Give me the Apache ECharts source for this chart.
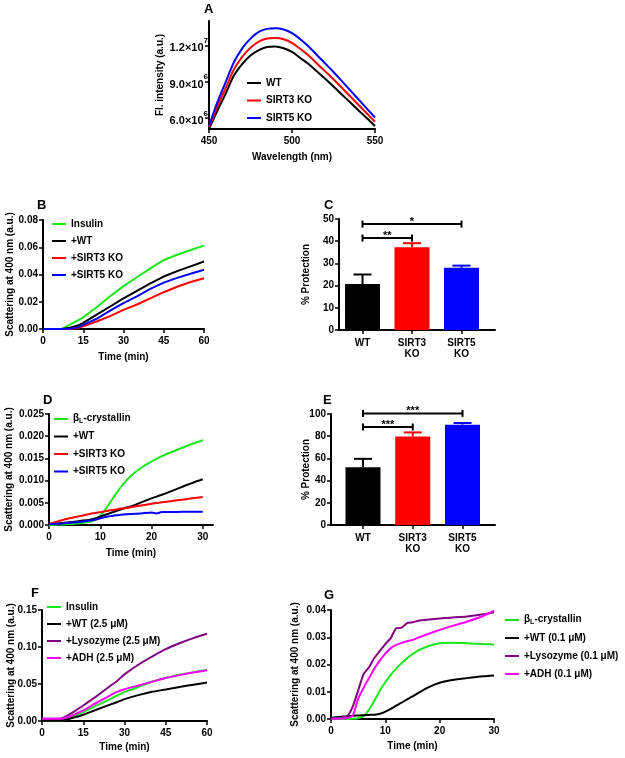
<!DOCTYPE html>
<html><head><meta charset="utf-8">
<script src="https://cdn.jsdelivr.net/npm/echarts@6/dist/echarts.min.js"></script>
<style>html,body{margin:0;padding:0;background:#fff}#c{width:625px;height:758px}</style>
</head><body><div id="c"></div>
<script>
// ---------- Panel A ----------
const aWavelength = [450,455,460,465,470,475,480,485,490,495,500,505,510,515,520,525,530,535,540,545,550];
const aWT    = [5.1e6,6.6e6,8.0e6,9.5e6,10.45e6,11.15e6,11.6e6,11.85e6,11.9e6,11.75e6,11.45e6,10.95e6,10.45e6,9.85e6,9.25e6,8.6e6,7.95e6,7.3e6,6.65e6,6.0e6,5.35e6];
const aSIRT3 = [5.25e6,6.95e6,8.45e6,10.0e6,11.05e6,11.8e6,12.3e6,12.55e6,12.6e6,12.5e6,12.2e6,11.7e6,11.15e6,10.5e6,9.85e6,9.2e6,8.5e6,7.8e6,7.1e6,6.4e6,5.7e6];
const aSIRT5 = [5.35e6,7.3e6,8.95e6,10.6e6,11.75e6,12.55e6,13.1e6,13.35e6,13.4e6,13.3e6,13.0e6,12.5e6,11.9e6,11.2e6,10.5e6,9.8e6,9.05e6,8.3e6,7.55e6,6.8e6,6.05e6];
const aTickValues = [6e6, 9e6, 1.2e7];
const aTickMant = ['6.0','9.0','1.2'];
const aTickExp = ['6','6','7'];

// ---------- Panel B ----------
const bTime    = [0,5,7,10,13,15,20,25,30,35,40,45,50,55,60];
const bInsulin = [0,0,0,0.0032,0.0064,0.0085,0.016,0.024,0.0315,0.038,0.0445,0.0505,0.0545,0.058,0.0612];
const bWT      = [0,0,0,0.001,0.0025,0.0045,0.0105,0.0165,0.0225,0.028,0.0335,0.0385,0.0425,0.046,0.0495];
const bSIRT3   = [0,0,0,0,0.0008,0.002,0.0055,0.0095,0.014,0.018,0.0225,0.027,0.031,0.0345,0.0373];
const bSIRT5   = [0,0,0,0.0002,0.0012,0.003,0.0075,0.0135,0.019,0.024,0.0295,0.034,0.0375,0.0405,0.0435];

// ---------- Panel C ----------
const cCategories = ['WT','SIRT3\nKO','SIRT5\nKO'];
const cMeans = [20.7, 37.3, 28.0];
const cErr   = [4.3, 1.8, 1.0];
const cBrFrom = [1, 1];
const cBrTo   = [3, 2];
const cBrY    = [47.7, 41.4];
const cBrText = ['*', '**'];

// ---------- Panel D ----------
const dTime    = [0,2,4,6,8,9,10,11,12,13,14,15,16,18,20,21,22,24,26,28,30];
const dCrystal = [0,0.0001,0.0002,0.0004,0.0007,0.0012,0.0021,0.0035,0.0052,0.0069,0.0085,0.0099,0.0111,0.0129,0.0143,0.0149,0.0155,0.0165,0.0174,0.0183,0.0191];
const dWT      = [0.0002,0.0004,0.0006,0.0009,0.0012,0.0015,0.0019,0.0023,0.0027,0.0031,0.0035,0.0039,0.0042,0.0051,0.006,0.0064,0.0068,0.0077,0.0086,0.0095,0.0103];
const dSIRT3   = [0.0002,0.0009,0.0015,0.002,0.0025,0.0027,0.0029,0.0031,0.0033,0.0035,0.0037,0.0038,0.004,0.0044,0.0048,0.00495,0.0051,0.0054,0.0057,0.006,0.0063];
const dSIRT5   = [0.0002,0.0003,0.0005,0.0007,0.001,0.0012,0.0015,0.0018,0.002,0.0022,0.0023,0.0024,0.0025,0.0026,0.0028,0.0026,0.0029,0.0029,0.003,0.003,0.003];

// ---------- Panel E ----------
const eCategories = ['WT','SIRT3\nKO','SIRT5\nKO'];
const eMeans = [52.1, 79.8, 90.4];
const eErr   = [7.5, 3.6, 1.5];
const eBrFrom = [1, 1];
const eBrTo   = [3, 2];
const eBrY    = [100.5, 88.3];
const eBrText = ['***', '***'];

// ---------- Panel F ----------
const fTime     = [0,5,7,10,13,15,20,25,27,30,35,40,45,50,55,60];
const fInsulin  = [0.001,0.001,0.001,0.004,0.009,0.012,0.021,0.030,0.034,0.039,0.046,0.053,0.058,0.0625,0.066,0.069];
const fWT       = [0.001,0.001,0.001,0.003,0.006,0.0085,0.0155,0.0225,0.025,0.0295,0.035,0.0395,0.0425,0.046,0.049,0.052];
const fLysozyme = [0.003,0.003,0.0035,0.009,0.016,0.021,0.034,0.048,0.053,0.063,0.076,0.087,0.097,0.105,0.112,0.118];
const fADH      = [0.003,0.003,0.003,0.006,0.011,0.0145,0.025,0.035,0.039,0.043,0.048,0.053,0.058,0.062,0.0655,0.0685];

// ---------- Panel G ----------
const gTime     = [0,1,2,3,4,5,6,7,8,9,10,11,12,13,14,15,16,18,20,22,25,28,30];
const gCrystal  = [0,0,0,0,0.0001,0.0003,0.001,0.0035,0.0068,0.0105,0.0135,0.0162,0.0185,0.0205,0.0223,0.0238,0.0251,0.0268,0.0278,0.028,0.0278,0.0275,0.0273];
const gWT       = [0.0004,0.0006,0.0008,0.001,0.0012,0.0013,0.0014,0.0015,0.0016,0.0019,0.0027,0.0037,0.0049,0.006,0.0072,0.0083,0.0095,0.0117,0.0133,0.0142,0.015,0.0157,0.016];
const gLysozyme = [0.0002,0.0003,0.0005,0.001,0.0045,0.0105,0.0165,0.019,0.0225,0.025,0.0275,0.0297,0.0333,0.0335,0.0352,0.0355,0.036,0.0365,0.0369,0.0372,0.0376,0.0384,0.0392];
const gADH      = [0,0.0001,0.0002,0.0004,0.0012,0.0075,0.0115,0.015,0.0185,0.0215,0.024,0.026,0.0272,0.0279,0.0285,0.029,0.0298,0.0313,0.0327,0.034,0.0357,0.0378,0.0398];

// ---------- styling ----------
const FONT = 'Liberation Sans, Arial, sans-serif';
const GREEN = '#19e619', BLACK = '#000000', RED = '#ff0000', BLUE = '#0000ff', PURPLE = '#800080', MAGENTA = '#ff00ff';
const barColors = [BLACK, RED, BLUE];
const T = {color:'#000', fontFamily: FONT, fontWeight:'bold', fontSize: 10};

function merge(a, b) {
  const out = Array.isArray(a) ? a.slice() : Object.assign({}, a);
  for (const k in b) {
    if (b[k] && typeof b[k] === 'object' && !Array.isArray(b[k]) && typeof b[k] !== 'function' && a[k] && typeof a[k] === 'object') out[k] = merge(a[k], b[k]);
    else out[k] = b[k];
  }
  return out;
}
function axis(gi, o) {
  return merge({
    gridIndex: gi, type: 'value',
    axisLine: {show: true, onZero: false, lineStyle: {color: '#000', width: 2}},
    axisTick: {show: true, inside: false, length: 4, lineStyle: {color: '#000', width: 1.5}},
    axisLabel: Object.assign({show: true, margin: 5}, T),
    splitLine: {show: false},
    nameLocation: 'middle',
    nameTextStyle: Object.assign({}, T),
    nameMoveOverlap: false
  }, o);
}
function xaxis(gi, o) { return axis(gi, merge({axisLabel: {margin: 7}}, o)); }
function line(name, gi, xs, ys, color, smooth) {
  return {type: 'line', name, xAxisIndex: gi, yAxisIndex: gi,
    data: xs.map((x, i) => [x, ys[i]]), showSymbol: false, symbol: 'none',
    smooth: smooth || false, lineStyle: {color, width: 2}, itemStyle: {color}, animation: false};
}
function bars(name, gi, means) {
  return {type: 'bar', name, xAxisIndex: gi, yAxisIndex: gi, barWidth: 35, animation: false,
    data: means.map((v, i) => ({value: [i + 1, v], itemStyle: {color: barColors[i]}}))};
}
function errBars(gi, means, errs) {
  return {type: 'custom', xAxisIndex: gi, yAxisIndex: gi, animation: false, z: 3,
    data: means.map((v, i) => [i + 1, v, v + errs[i]]),
    renderItem: function (params, api) {
      const p0 = api.coord([api.value(0), api.value(1)]);
      const p1 = api.coord([api.value(0), api.value(2)]);
      const st = {stroke: barColors[params.dataIndex], lineWidth: 2};
      return {type: 'group', children: [
        {type: 'line', shape: {x1: p0[0], y1: p0[1], x2: p1[0], y2: p1[1]}, style: st},
        {type: 'line', shape: {x1: p1[0] - 9, y1: p1[1], x2: p1[0] + 9, y2: p1[1]}, style: st}
      ]};
    }};
}
function brackets(gi, from, to, ys, texts) {
  return {type: 'custom', xAxisIndex: gi, yAxisIndex: gi, animation: false, z: 4, clip: false,
    data: from.map((f, i) => [f, to[i], ys[i]]),
    renderItem: function (params, api) {
      const a = api.coord([api.value(0), api.value(2)]);
      const b = api.coord([api.value(1), api.value(2)]);
      const st = {stroke: '#000', lineWidth: 2};
      return {type: 'group', children: [
        {type: 'line', shape: {x1: a[0], y1: a[1], x2: b[0], y2: b[1]}, style: st},
        {type: 'line', shape: {x1: a[0], y1: a[1] - 3.5, x2: a[0], y2: a[1] + 3.5}, style: st},
        {type: 'line', shape: {x1: b[0], y1: b[1] - 3.5, x2: b[0], y2: b[1] + 3.5}, style: st},
        {type: 'text', style: {text: texts[params.dataIndex], x: (a[0] + b[0]) / 2, y: a[1] - 2,
          align: 'center', verticalAlign: 'middle', fill: '#000', font: 'bold 11px ' + FONT}}
      ]};
    }};
}
function legend(names, left, top, gap) {
  return {data: names, left, top, orient: 'vertical', icon: 'rect', itemWidth: 14, itemHeight: 2,
    itemGap: gap, selectedMode: false, padding: 0,
    formatter: n => n === 'βL-crystallin' ? '{n|β}{s|L}{n|-crystallin}' : n,
    textStyle: Object.assign({lineHeight: 12, padding: [0, 0, 0, 0],
      rich: {n: Object.assign({lineHeight: 12, verticalAlign: 'top'}, T),
             s: Object.assign({}, T, {fontSize: 7, lineHeight: 6, verticalAlign: 'bottom'})}}, T)};
}
const letter = (t, left, top) => ({text: t, left, top, padding: 0,
  textStyle: {color: '#000', fontFamily: FONT, fontWeight: 'bold', fontSize: 13}});

const grids = [
  {left: 209, top: 21, width: 166, height: 108},
  {left: 43, top: 220, width: 161, height: 109},
  {left: 339, top: 219, width: 156, height: 111},
  {left: 49, top: 414, width: 164, height: 111},
  {left: 331, top: 414, width: 164, height: 111},
  {left: 42, top: 610, width: 165, height: 111},
  {left: 331, top: 610, width: 163, height: 109}
].map(g => Object.assign({containLabel: false, outerBoundsMode: 'none'}, g));

const scatName = 'Scattering at 400 nm (a.u.)';
const option = {
  backgroundColor: '#fff',
  animation: false,
  textStyle: {fontFamily: FONT},
  title: [letter('A', 204, 3), letter('B', 37, 199), letter('C', 324, 199), letter('D', 43, 394),
          letter('E', 323, 394), letter('F', 31, 587), letter('G', 324, 589)],
  grid: grids,
  xAxis: [
    xaxis(0, {min: 450, max: 550, interval: 50, name: 'Wavelength (nm)', nameGap: 23}),
    xaxis(1, {min: 0, max: 60, interval: 15, name: 'Time (min)', nameGap: 23}),
    xaxis(2, {min: 0.525, max: 3.677,
      axisTick: {customValues: [1, 2, 3]},
      axisLabel: {customValues: [1, 2, 3], lineHeight: 11.5, formatter: v => cCategories[Math.round(v) - 1]}}),
    xaxis(3, {min: 0, max: 32, name: 'Time (min)', nameGap: 23,
      axisTick: {customValues: [0, 10, 20, 30]}, axisLabel: {customValues: [0, 10, 20, 30]}}),
    xaxis(4, {min: 0.357, max: 3.653,
      axisTick: {customValues: [1, 2, 3]},
      axisLabel: {customValues: [1, 2, 3], lineHeight: 11.5, formatter: v => eCategories[Math.round(v) - 1]}}),
    xaxis(5, {min: 0, max: 60, interval: 15, name: 'Time (min)', nameGap: 21}),
    xaxis(6, {min: 0, max: 30, interval: 10, name: 'Time (min)', nameGap: 22})
  ],
  yAxis: [
    axis(0, {min: 5.1e6, max: 1.4e7, name: 'Fl. intensity (a.u.)', nameGap: 44,
      axisTick: {customValues: aTickValues},
      axisLabel: {customValues: aTickValues, margin: 1,
        formatter: v => { const i = aTickValues.indexOf(v); return '{m|' + aTickMant[i] + '×10}{e|' + aTickExp[i] + '}'; },
        rich: {m: Object.assign({}, T, {fontSize: 11, lineHeight: 17, verticalAlign: 'bottom'}),
               e: Object.assign({}, T, {fontSize: 8, lineHeight: 9, verticalAlign: 'top'})}}}),
    axis(1, {min: 0, max: 0.08, interval: 0.02, name: scatName, nameGap: 28,
      axisLabel: {formatter: v => v.toFixed(2)}}),
    axis(2, {min: 0, max: 50, interval: 10, name: '% Protection', nameGap: 28}),
    axis(3, {min: 0, max: 0.025, interval: 0.005, name: scatName, nameGap: 35,
      axisLabel: {formatter: v => v.toFixed(3)}}),
    axis(4, {min: 0, max: 100, interval: 20, name: '% Protection', nameGap: 20}),
    axis(5, {min: 0, max: 0.15, interval: 0.05, name: scatName, nameGap: 26,
      axisLabel: {formatter: v => v.toFixed(2)}}),
    axis(6, {min: 0, max: 0.04, interval: 0.01, name: scatName, nameGap: 31,
      axisLabel: {formatter: v => v.toFixed(2)}})
  ],
  legend: [
    legend(['WT', 'SIRT3 KO', 'SIRT5 KO'], 247, 77, 5.5),
    legend(['Insulin', '+WT', '+SIRT3 KO', '+SIRT5 KO'], 52, 218, 5),
    legend(['βL-crystallin', '+WT', '+SIRT3 KO', '+SIRT5 KO'], 54, 413, 5.5),
    legend(['Insulin', '+WT (2.5 μM)', '+Lysozyme (2.5 μM)', '+ADH (2.5 μM)'], 47, 601, 5),
    legend(['βL-crystallin', '+WT (0.1 μM)', '+Lysozyme (0.1 μM)', '+ADH (0.1 μM)'], 505, 614, 6)
  ],
  series: [
    line('WT', 0, aWavelength, aWT, BLACK, 0.3),
    line('SIRT3 KO', 0, aWavelength, aSIRT3, RED, 0.3),
    line('SIRT5 KO', 0, aWavelength, aSIRT5, BLUE, 0.3),

    line('Insulin', 1, bTime, bInsulin, GREEN),
    line('+WT', 1, bTime, bWT, BLACK),
    line('+SIRT3 KO', 1, bTime, bSIRT3, RED),
    line('+SIRT5 KO', 1, bTime, bSIRT5, BLUE),

    bars('C bars', 2, cMeans),
    errBars(2, cMeans, cErr),
    brackets(2, cBrFrom, cBrTo, cBrY, cBrText),

    line('βL-crystallin', 3, dTime, dCrystal, GREEN, 0.3),
    line('+WT', 3, dTime, dWT, BLACK, 0.3),
    line('+SIRT3 KO', 3, dTime, dSIRT3, RED, 0.3),
    line('+SIRT5 KO', 3, dTime, dSIRT5, BLUE, 0.2),

    bars('E bars', 4, eMeans),
    errBars(4, eMeans, eErr),
    brackets(4, eBrFrom, eBrTo, eBrY, eBrText),

    line('Insulin', 5, fTime, fInsulin, GREEN, 0.2),
    line('+WT (2.5 μM)', 5, fTime, fWT, BLACK, 0.2),
    line('+Lysozyme (2.5 μM)', 5, fTime, fLysozyme, PURPLE, 0.2),
    line('+ADH (2.5 μM)', 5, fTime, fADH, MAGENTA, 0.2),

    line('βL-crystallin', 6, gTime, gCrystal, GREEN, 0.3),
    line('+WT (0.1 μM)', 6, gTime, gWT, BLACK, 0.3),
    line('+Lysozyme (0.1 μM)', 6, gTime, gLysozyme, PURPLE, 0.2),
    line('+ADH (0.1 μM)', 6, gTime, gADH, MAGENTA, 0.2)
  ]
};
const chart = echarts.init(document.getElementById('c'), null, {renderer: 'canvas'});
chart.setOption(option);
</script></body></html>
